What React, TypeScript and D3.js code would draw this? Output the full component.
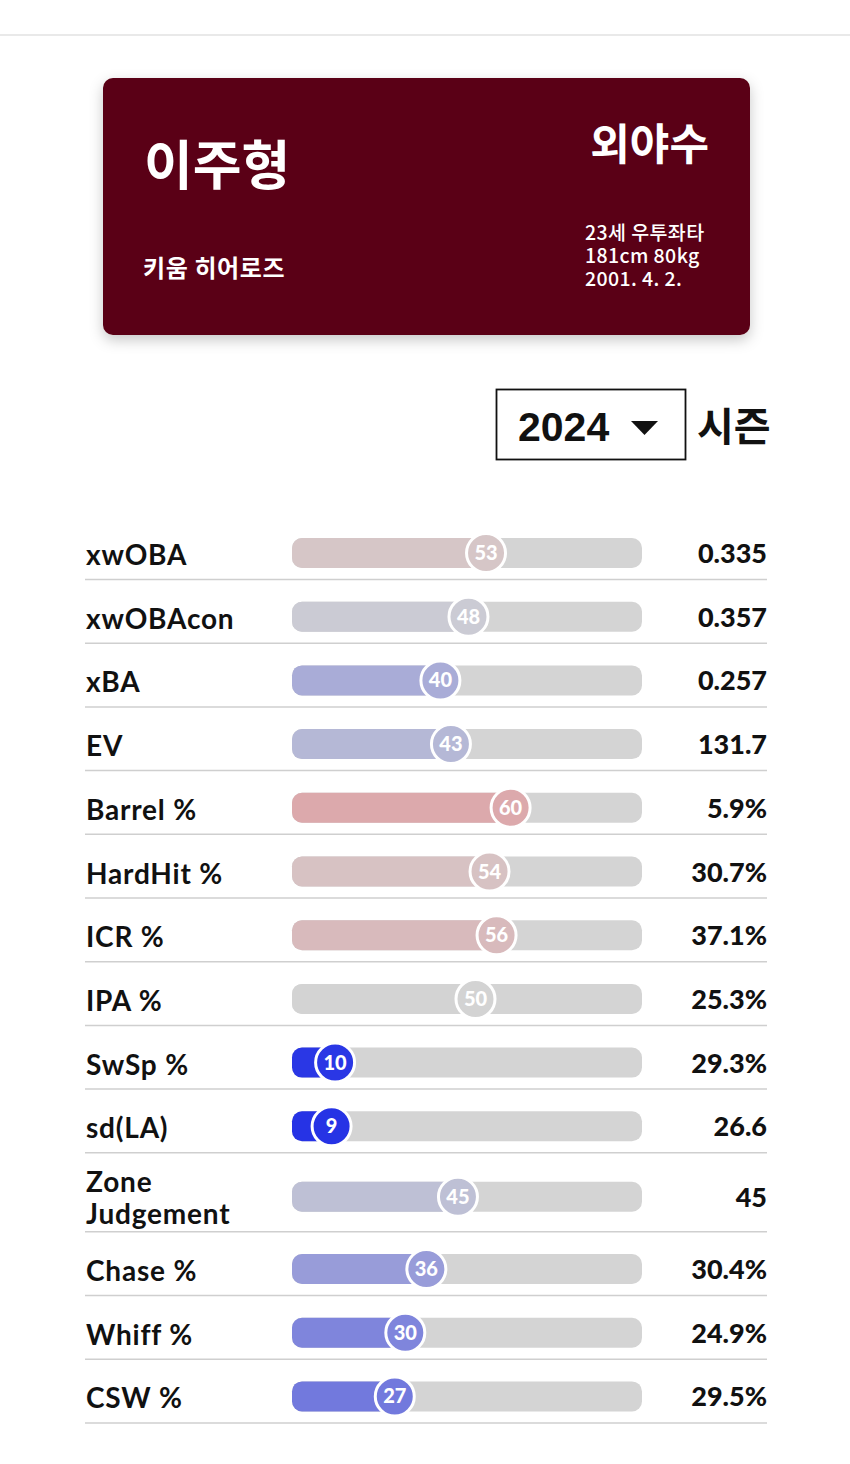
import React from "react";
import * as d3 from "d3";

const metrics = ["xwOBA", "xwOBAcon", "xBA", "EV", "Barrel %", "HardHit %", "ICR %", "IPA %", "SwSp %", "sd(LA)", "Zone Judgement", "Chase %", "Whiff %", "CSW %"];
const percentiles = [53, 48, 40, 43, 60, 54, 56, 50, 10, 9, 45, 36, 30, 27];
const values = ["0.335", "0.357", "0.257", "131.7", "5.9%", "30.7%", "37.1%", "25.3%", "29.3%", "26.6", "45", "30.4%", "24.9%", "29.5%"];

const playerName = "이주형";
const position = "외야수";
const team = "키움 히어로즈";
const infoLines = ["23세 우투좌타", "181cm 80kg", "2001. 4. 2."];
const season = "2024";
const seasonLabel = "시즌";

const W = 850;
const H = 1464;

const labelFont = "Lato, 'Noto Sans', sans-serif";
const krFont = "'Noto Sans CJK KR', 'Noto Sans', sans-serif";

export default function App() {
  const x = d3.scaleLinear().domain([0, 100]).range([300, 651]);
  const color = d3
    .scaleLinear<string>()
    .domain([0, 50, 100])
    .range(["#0010e9", "#d3d3d3", "#ff0010"])
    .interpolate(d3.interpolateRgb);

  const trackX0 = 292;
  const trackX1 = 642;
  const barH = 30;
  const startY = 515.8;
  const rowH = (m: string) => (m === "Zone Judgement" ? 79 : 63.7);

  let acc = startY;
  const rows = metrics.map((m, i) => {
    const top = acc;
    const h = rowH(m);
    acc += h;
    const bottom = acc;
    const cy = m === "Zone Judgement" ? top + 44 : bottom - 26.5;
    return { m, p: percentiles[i], v: values[i], top, bottom, cy };
  });

  return (
    <svg
      width={W}
      height={H}
      style={{ position: "absolute", left: 0, top: 0, background: "#fff" }}
    >
      <defs>
        <filter id="cardShadow" x="-10%" y="-20%" width="120%" height="150%">
          <feDropShadow dx="0" dy="5" stdDeviation="7" floodColor="#000" floodOpacity="0.22" />
        </filter>
      </defs>
      <rect x={0} y={0} width={W} height={H} fill="#ffffff" />
      <line x1={0} x2={W} y1={35} y2={35} stroke="#e2e2e2" strokeWidth={1.5} />

      {/* player card */}
      <rect x={103} y={78} width={647} height={257} rx={10} fill="#5a0514" filter="url(#cardShadow)" />
      <text x={144} y={185} fill="#fff" fontFamily={krFont} fontWeight={700} fontSize={53}>
        {playerName}
      </text>
      <text x={709} y={160} fill="#fff" fontFamily={krFont} fontWeight={700} fontSize={43} textAnchor="end">
        {position}
      </text>
      <text x={143} y={277} fill="#fff" fontFamily={krFont} fontWeight={700} fontSize={24} letterSpacing={0.6}>
        {team}
      </text>
      <text fill="#fff" fontFamily={krFont} fontWeight={500} fontSize={19.5} letterSpacing={0.4}>
        {infoLines.map((t, i) => (
          <tspan key={t} x={585} y={240 + i * 23}>
            {t}
          </tspan>
        ))}
      </text>

      {/* season selector */}
      <rect x={496.5} y={389.5} width={189} height={70} fill="#fff" stroke="#111" strokeWidth={1.8} />
      <text x={518} y={441} fill="#111" fontFamily="'Liberation Sans', Arial, sans-serif" fontWeight={700} fontSize={41}>
        {season}
      </text>
      <path d="M631,421 L658,421 L644.5,435 Z" fill="#111" />
      <text x={697} y={441} fill="#111" fontFamily={krFont} fontWeight={700} fontSize={40}>
        {seasonLabel}
      </text>

      {/* rows */}
      {rows.map((r) => {
        const cx = x(r.p);
        const c = color(r.p);
        const words = r.m === "Zone Judgement" ? ["Zone", "Judgement"] : [r.m];
        return (
          <g key={r.m}>
            <line x1={85} x2={767} y1={r.bottom} y2={r.bottom} stroke="#cfcfcf" strokeWidth={1.5} />
            {words.length === 1 ? (
              <text x={86} y={r.cy + 12} fill="#111" fontFamily={labelFont} fontWeight={700} fontSize={28} letterSpacing={0.8}>
                {words[0]}
              </text>
            ) : (
              <text fill="#111" fontFamily={labelFont} fontWeight={700} fontSize={28} letterSpacing={0.8}>
                <tspan x={86} y={r.cy - 5}>{words[0]}</tspan>
                <tspan x={86} y={r.cy + 27}>{words[1]}</tspan>
              </text>
            )}
            <rect x={trackX0} y={r.cy - barH / 2} width={trackX1 - trackX0} height={barH} rx={10} fill="#d4d4d4" />
            <rect x={trackX0} y={r.cy - barH / 2} width={Math.max(cx - trackX0, 20)} height={barH} rx={10} fill={c} />
            <circle cx={cx} cy={r.cy} r={19.5} fill={c} stroke="#fff" strokeWidth={3} />
            <text
              x={cx}
              y={r.cy + 7}
              textAnchor="middle"
              fill="#fff"
              fontFamily={labelFont}
              fontWeight={900}
              fontSize={20}
            >
              {r.p}
            </text>
            <text
              x={767}
              y={r.cy + 10}
              textAnchor="end"
              fill="#111"
              fontFamily={labelFont}
              fontWeight={900}
              fontSize={27}
            >
              {r.v}
            </text>
          </g>
        );
      })}
    </svg>
  );
}
